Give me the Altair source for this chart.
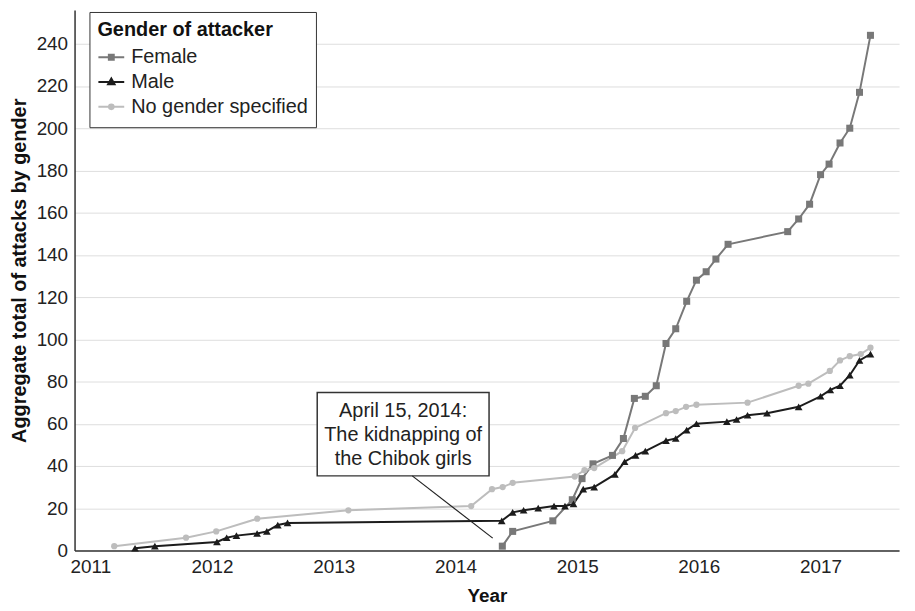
import altair as alt
import pandas as pd

genders = ["Female", "Male", "No gender specified"]
colors = ["#787878", "#1c1c1c", "#bdbdbd"]
shapes = ["square", "triangle-up", "circle"]
sizes = [50, 60, 40]

female_year = [2014.385, 2014.47, 2014.80, 2014.96, 2015.04, 2015.13, 2015.29, 2015.38, 2015.47,
               2015.56, 2015.65, 2015.73, 2015.81, 2015.90, 2015.98, 2016.06, 2016.14, 2016.24,
               2016.73, 2016.82, 2016.91, 2017.00, 2017.07, 2017.16, 2017.24, 2017.32, 2017.41]
female_total = [2, 9, 14, 24, 34, 41, 45, 53, 72, 73, 78, 98, 105, 118, 128, 132, 138, 145,
                151, 157, 164, 178, 183, 193, 200, 217, 244]

male_year = [2011.367, 2011.53, 2012.04, 2012.12, 2012.20, 2012.37, 2012.45, 2012.54, 2012.62,
             2014.38, 2014.47, 2014.56, 2014.68, 2014.81, 2014.90, 2014.97, 2015.05, 2015.14,
             2015.31, 2015.39, 2015.48, 2015.56, 2015.73, 2015.81, 2015.90, 2015.98, 2016.23,
             2016.31, 2016.40, 2016.56, 2016.82, 2017.00, 2017.08, 2017.16, 2017.24, 2017.32, 2017.41]
male_total = [1, 2, 4, 6, 7, 8, 9, 12, 13, 14, 18, 19, 20, 21, 21, 22, 29, 30, 36, 42, 45, 47,
              52, 53, 57, 60, 61, 62, 64, 65, 68, 73, 76, 78, 83, 90, 93]

none_year = [2011.196, 2011.786, 2012.034, 2012.371, 2013.12, 2014.129, 2014.30, 2014.388, 2014.47,
             2014.98, 2015.06, 2015.14, 2015.37, 2015.476, 2015.73, 2015.81, 2015.895, 2015.98,
             2016.40, 2016.82, 2016.90, 2017.076, 2017.16, 2017.24, 2017.33, 2017.41]
none_total = [2, 6, 9, 15, 19, 21, 29, 30, 32, 35, 38, 39, 47, 58, 65, 66, 68, 69, 70, 78, 79,
              85, 90, 92, 93, 96]

year_ticks = [2011, 2012, 2013, 2014, 2015, 2016, 2017]
total_ticks = list(range(0, 241, 20))

# annotation (in data units)
annot_lines = "April 15, 2014:\nThe kidnapping of\nthe Chibok girls"
annot_box_year = [2012.864, 2014.276]
annot_box_total = [35.3, 74.8]
annot_text_pos = [2013.57, 65.9]
annot_pointer_year = [2013.645, 2014.306]
annot_pointer_total = [35.3, 5.8]

# legend symbols: short line with the marker in its middle
legend_paths = [
    "M-1,0H1M-0.19,-0.19H0.19V0.19H-0.19Z",
    "M-1,0H1M0,-0.27L0.25,0.17L-0.25,0.17Z",
    "M-1,0H1M-0.18,0A0.18,0.18,0,1,0,0.18,0A0.18,0.18,0,1,0,-0.18,0Z",
]

rows = []
for g, xs, ys in [("Female", female_year, female_total),
                  ("Male", male_year, male_total),
                  ("No gender specified", none_year, none_total)]:
    for x, y in zip(xs, ys):
        rows.append({"year": x, "total": y, "gender": g})
df = pd.DataFrame(rows)

FONT = "Liberation Sans"

x_scale = alt.Scale(domain=[2010.87, 2017.645], nice=False, zero=False)
y_scale = alt.Scale(domain=[0, 256], nice=False)

x_axis = alt.Axis(values=year_ticks, format="d", title="Year", grid=False, ticks=False,
                  labelFontSize=19, titleFontSize=19, titleFontWeight="bold",
                  labelColor="#222", titleColor="#111", domainColor="#333", domainWidth=1.5,
                  labelPadding=7, titleY=36, labelFlush=False)
y_axis = alt.Axis(values=total_ticks, title="Aggregate total of attacks by gender", grid=True,
                  gridColor="#dedede", gridWidth=1, ticks=False, labelFontSize=19,
                  titleFontSize=20, titleFontWeight="bold", labelColor="#222",
                  titleColor="#111", domainColor="#333", domainWidth=1.5,
                  labelPadding=7, titleX=-45, titleY=262)

legend = alt.Legend(
    title="Gender of attacker", orient="none", legendX=15, legendY=2,
    fillColor="white", strokeColor="#333", padding=8, cornerRadius=0,
    titleFontSize=20, titleFontWeight="bold", titleColor="#111", titlePadding=5,
    labelFontSize=20, labelColor="#222", labelOffset=6, labelLimit=400,
    symbolSize=676, symbolStrokeWidth=2, rowPadding=0, clipHeight=25,
)

base_layer = alt.Chart(df).mark_line(opacity=0).encode(
    x=alt.X("year:Q", scale=x_scale, axis=x_axis),
    y=alt.Y("total:Q", scale=y_scale, axis=y_axis),
    detail="gender:N",
)

series_layers = []
for g, col in zip(genders, colors):
    series_layers.append(
        alt.Chart(df).transform_filter(alt.datum.gender == g)
        .mark_line(color=col, strokeWidth=2)
        .encode(x="year:Q", y="total:Q")
    )
for g, col, shp, sz in zip(genders, colors, shapes, sizes):
    series_layers.append(
        alt.Chart(df).transform_filter(alt.datum.gender == g)
        .mark_point(filled=True, opacity=1, color=col, shape=shp, size=sz)
        .encode(x="year:Q", y="total:Q")
    )

legend_layer = alt.Chart(df).transform_filter("datum.total < 0").mark_point(
    filled=False, opacity=1, size=676, strokeWidth=2
).encode(
    x="year:Q",
    y="total:Q",
    color=alt.Color("gender:N", scale=alt.Scale(domain=genders, range=colors), legend=legend),
    fill=alt.Fill("gender:N", scale=alt.Scale(domain=genders, range=colors), legend=legend),
    shape=alt.Shape("gender:N", scale=alt.Scale(domain=genders, range=legend_paths), legend=legend),
)

box_df = pd.DataFrame({"x0": [annot_box_year[0]], "x1": [annot_box_year[1]],
                       "y0": [annot_box_total[0]], "y1": [annot_box_total[1]]})
box = alt.Chart(box_df).mark_rect(fill="white", stroke="#333", strokeWidth=1.5).encode(
    x="x0:Q", x2="x1:Q", y="y0:Q", y2="y1:Q",
)

text_df = pd.DataFrame({"tx": [annot_text_pos[0]], "ty": [annot_text_pos[1]], "label": [annot_lines]})
text = alt.Chart(text_df).mark_text(fontSize=20, align="center", baseline="middle",
                                     lineHeight=24, lineBreak="\n", color="#222", font=FONT).encode(
    x="tx:Q", y="ty:Q", text="label:N",
)

ptr_df = pd.DataFrame({"px0": [annot_pointer_year[0]], "px1": [annot_pointer_year[1]],
                       "py0": [annot_pointer_total[0]], "py1": [annot_pointer_total[1]]})
pointer = alt.Chart(ptr_df).mark_rule(color="#222", strokeWidth=1.2).encode(
    x="px0:Q", x2="px1:Q", y="py0:Q", y2="py1:Q",
)

chart = alt.layer(base_layer, *series_layers, legend_layer, box, text, pointer).properties(
    width=830, height=544,
    padding={"left": 67, "top": 0, "right": 8, "bottom": 58},
    autosize=alt.AutoSizeParams(type="none"),
).configure(font=FONT).configure_view(stroke="transparent")

chart.save("out.html", embed_options={"renderer": "svg", "actions": False})
